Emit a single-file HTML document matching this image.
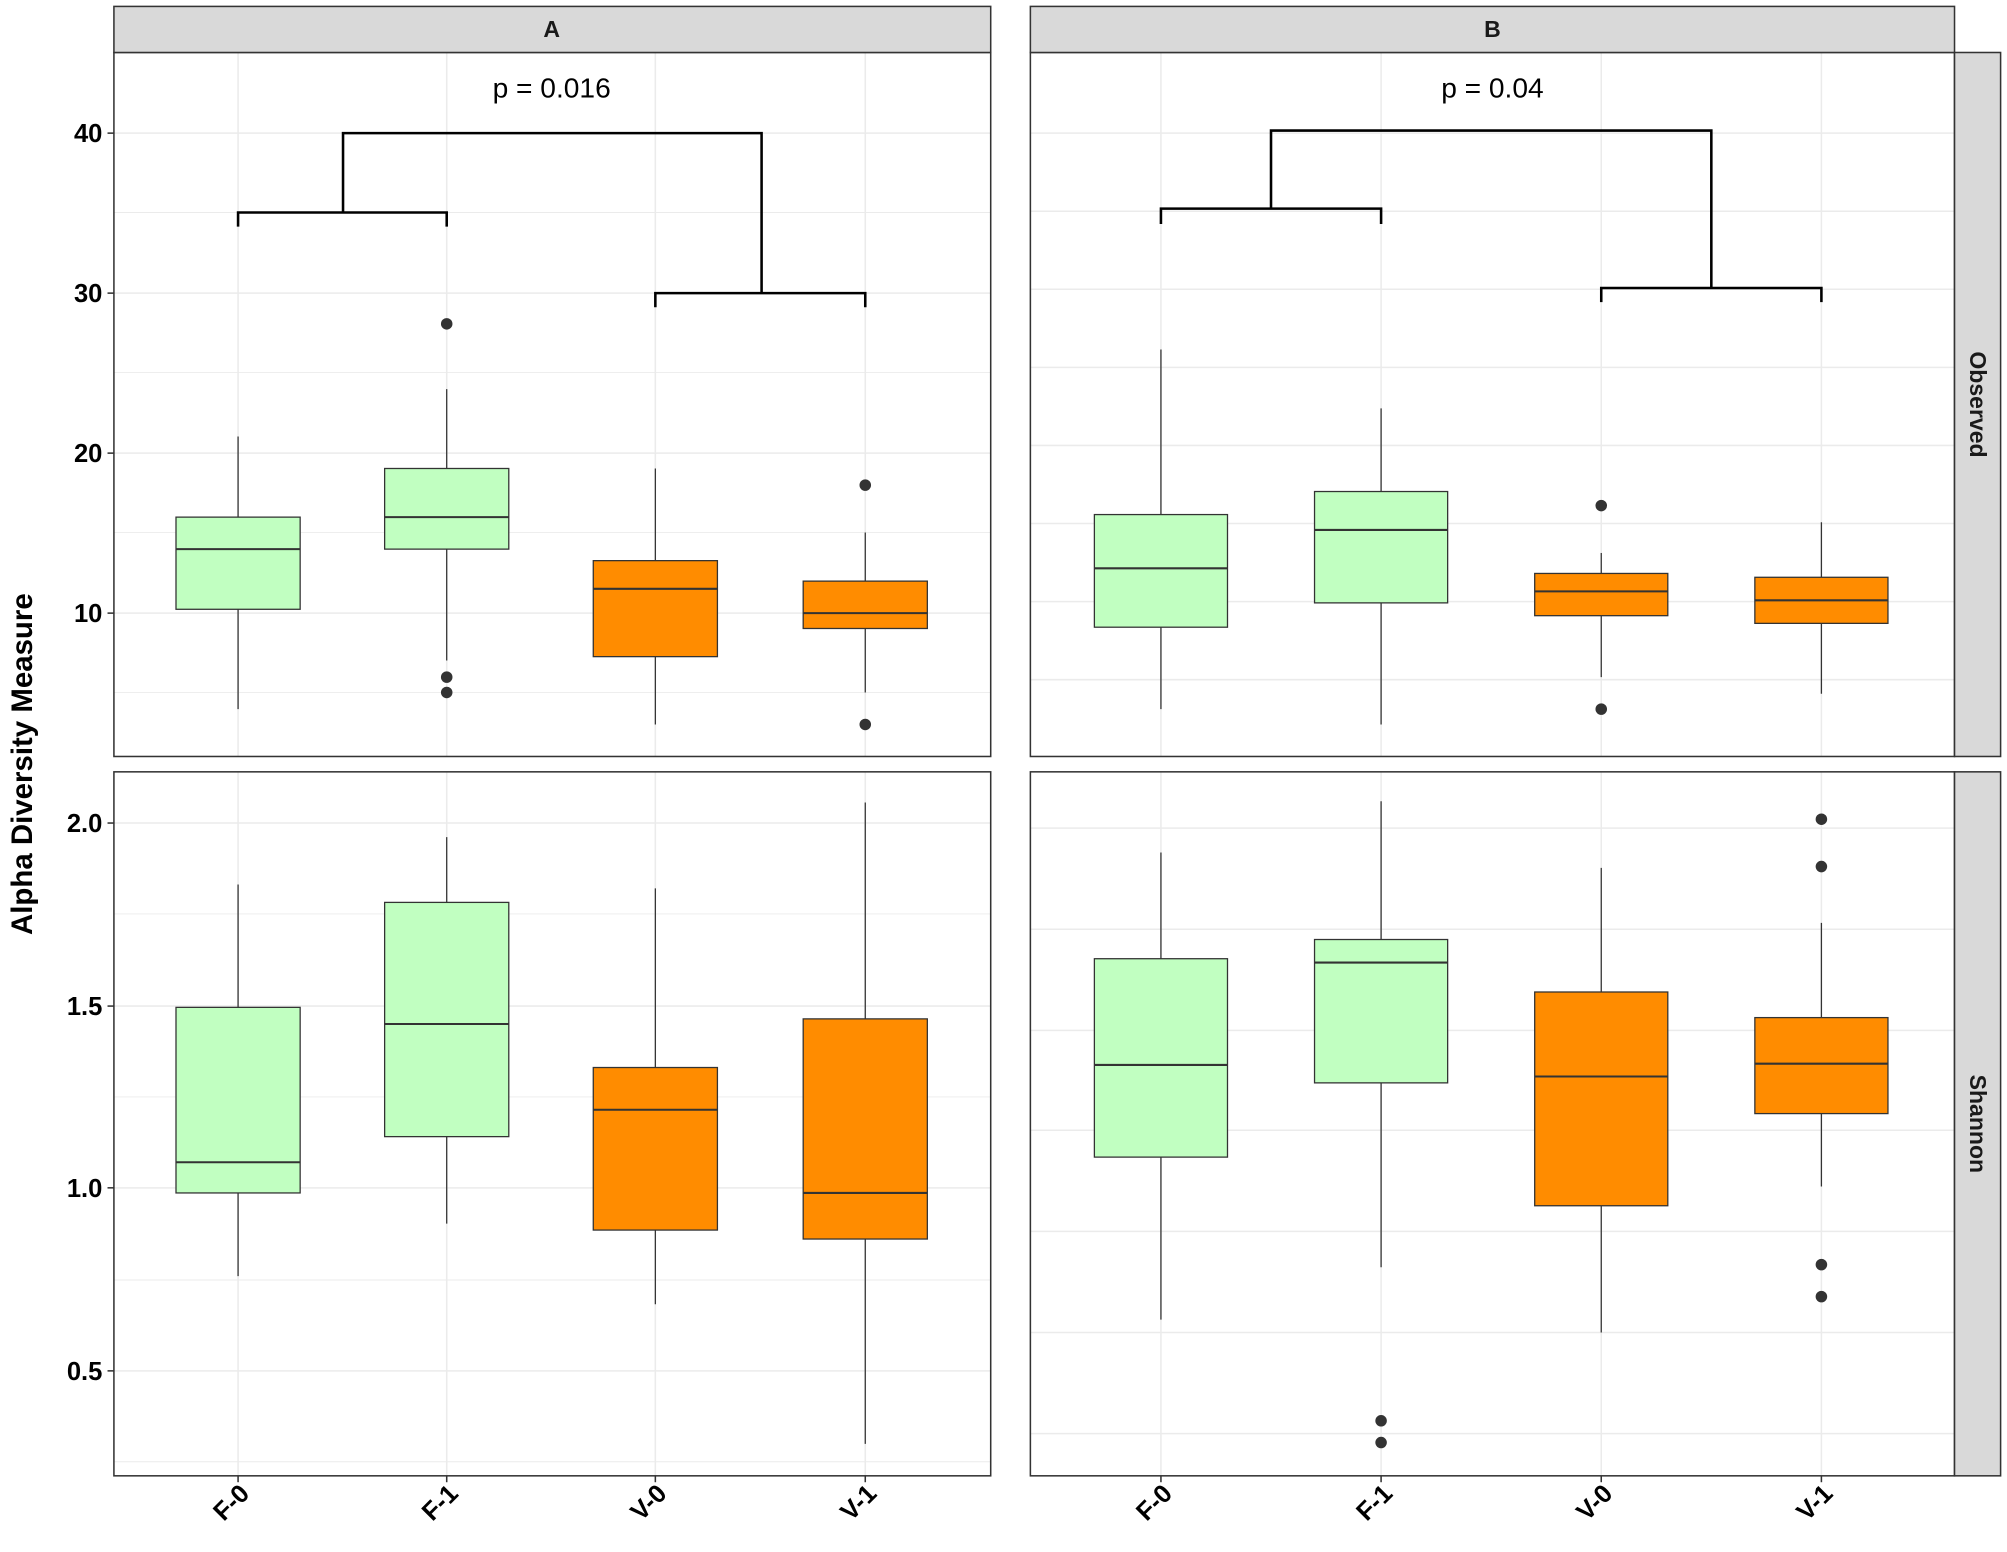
<!DOCTYPE html>
<html><head><meta charset="utf-8"><style>html,body{margin:0;padding:0;background:#fff}svg{display:block}</style></head><body>
<svg width="2007" height="1552" viewBox="0 0 1568 1212.5" xmlns="http://www.w3.org/2000/svg" font-family="Liberation Sans, Arial, sans-serif">
<rect width="1568" height="1212.5" fill="#fff"/>
<g stroke="#ebebeb" stroke-width="1.2">
<line x1="89" x2="774" y1="104" y2="104"/><line x1="89" x2="774" y1="229" y2="229"/><line x1="89" x2="774" y1="354" y2="354"/><line x1="89" x2="774" y1="479" y2="479"/>
<line x1="89" x2="774" y1="166" y2="166" stroke-width="0.7"/><line x1="89" x2="774" y1="291" y2="291" stroke-width="0.7"/><line x1="89" x2="774" y1="416" y2="416" stroke-width="0.7"/><line x1="89" x2="774" y1="541" y2="541" stroke-width="0.7"/>
<line x1="89" x2="774" y1="643" y2="643"/><line x1="89" x2="774" y1="786" y2="786"/><line x1="89" x2="774" y1="928" y2="928"/><line x1="89" x2="774" y1="1071" y2="1071"/>
<line x1="89" x2="774" y1="714" y2="714" stroke-width="0.7"/><line x1="89" x2="774" y1="857" y2="857" stroke-width="0.7"/><line x1="89" x2="774" y1="1000" y2="1000" stroke-width="0.7"/><line x1="89" x2="774" y1="1142" y2="1142" stroke-width="0.7"/>
<line x1="805" x2="1527" y1="104" y2="104"/><line x1="805" x2="1527" y1="165" y2="165"/><line x1="805" x2="1527" y1="226" y2="226"/><line x1="805" x2="1527" y1="287" y2="287"/><line x1="805" x2="1527" y1="348" y2="348"/><line x1="805" x2="1527" y1="409" y2="409"/><line x1="805" x2="1527" y1="470" y2="470"/><line x1="805" x2="1527" y1="531" y2="531"/>
<line x1="805" x2="1527" y1="647" y2="647"/><line x1="805" x2="1527" y1="726" y2="726"/><line x1="805" x2="1527" y1="805" y2="805"/><line x1="805" x2="1527" y1="883" y2="883"/><line x1="805" x2="1527" y1="962" y2="962"/><line x1="805" x2="1527" y1="1041" y2="1041"/><line x1="805" x2="1527" y1="1120" y2="1120"/>
<line x1="186" x2="186" y1="41" y2="591"/><line x1="349" x2="349" y1="41" y2="591"/><line x1="512" x2="512" y1="41" y2="591"/><line x1="676" x2="676" y1="41" y2="591"/>
<line x1="186" x2="186" y1="603" y2="1153"/><line x1="349" x2="349" y1="603" y2="1153"/><line x1="512" x2="512" y1="603" y2="1153"/><line x1="676" x2="676" y1="603" y2="1153"/>
<line x1="907" x2="907" y1="41" y2="591"/><line x1="1079" x2="1079" y1="41" y2="591"/><line x1="1251" x2="1251" y1="41" y2="591"/><line x1="1423" x2="1423" y1="41" y2="591"/>
<line x1="907" x2="907" y1="603" y2="1153"/><line x1="1079" x2="1079" y1="603" y2="1153"/><line x1="1251" x2="1251" y1="603" y2="1153"/><line x1="1423" x2="1423" y1="603" y2="1153"/>
</g>
<g stroke="#333" stroke-width="1">
<line x1="186" x2="186" y1="341" y2="554"/><rect x="137.5" y="404" width="97" height="72" fill="#C1FFC1"/><line x1="137.5" x2="234.5" y1="429" y2="429" stroke-width="1.6"/>
<line x1="349" x2="349" y1="304" y2="516"/><rect x="300.5" y="366" width="97" height="63" fill="#C1FFC1"/><line x1="300.5" x2="397.5" y1="404" y2="404" stroke-width="1.6"/>
<line x1="512" x2="512" y1="366" y2="566"/><rect x="463.5" y="438" width="97" height="75" fill="#FF8C00"/><line x1="463.5" x2="560.5" y1="460" y2="460" stroke-width="1.6"/>
<line x1="676" x2="676" y1="416" y2="541"/><rect x="627.5" y="454" width="97" height="37" fill="#FF8C00"/><line x1="627.5" x2="724.5" y1="479" y2="479" stroke-width="1.6"/>
<line x1="907" x2="907" y1="273" y2="554"/><rect x="855" y="402" width="104" height="88" fill="#C1FFC1"/><line x1="855" x2="959" y1="444" y2="444" stroke-width="1.6"/>
<line x1="1079" x2="1079" y1="319" y2="566"/><rect x="1027" y="384" width="104" height="87" fill="#C1FFC1"/><line x1="1027" x2="1131" y1="414" y2="414" stroke-width="1.6"/>
<line x1="1251" x2="1251" y1="432" y2="529"/><rect x="1199" y="448" width="104" height="33" fill="#FF8C00"/><line x1="1199" x2="1303" y1="462" y2="462" stroke-width="1.6"/>
<line x1="1423" x2="1423" y1="408" y2="542"/><rect x="1371" y="451" width="104" height="36" fill="#FF8C00"/><line x1="1371" x2="1475" y1="469" y2="469" stroke-width="1.6"/>
<line x1="186" x2="186" y1="691" y2="997"/><rect x="137.5" y="787" width="97" height="145" fill="#C1FFC1"/><line x1="137.5" x2="234.5" y1="908" y2="908" stroke-width="1.6"/>
<line x1="349" x2="349" y1="654" y2="956"/><rect x="300.5" y="705" width="97" height="183" fill="#C1FFC1"/><line x1="300.5" x2="397.5" y1="800" y2="800" stroke-width="1.6"/>
<line x1="512" x2="512" y1="694" y2="1019"/><rect x="463.5" y="834" width="97" height="127" fill="#FF8C00"/><line x1="463.5" x2="560.5" y1="867" y2="867" stroke-width="1.6"/>
<line x1="676" x2="676" y1="627" y2="1128"/><rect x="627.5" y="796" width="97" height="172" fill="#FF8C00"/><line x1="627.5" x2="724.5" y1="932" y2="932" stroke-width="1.6"/>
<line x1="907" x2="907" y1="666" y2="1031"/><rect x="855" y="749" width="104" height="155" fill="#C1FFC1"/><line x1="855" x2="959" y1="832" y2="832" stroke-width="1.6"/>
<line x1="1079" x2="1079" y1="626" y2="990"/><rect x="1027" y="734" width="104" height="112" fill="#C1FFC1"/><line x1="1027" x2="1131" y1="752" y2="752" stroke-width="1.6"/>
<line x1="1251" x2="1251" y1="678" y2="1041"/><rect x="1199" y="775" width="104" height="167" fill="#FF8C00"/><line x1="1199" x2="1303" y1="841" y2="841" stroke-width="1.6"/>
<line x1="1423" x2="1423" y1="721" y2="927"/><rect x="1371" y="795" width="104" height="75" fill="#FF8C00"/><line x1="1371" x2="1475" y1="831" y2="831" stroke-width="1.6"/>
</g>
<g fill="#333">
<circle cx="349" cy="253" r="4.5"/><circle cx="349" cy="529" r="4.5"/><circle cx="349" cy="541" r="4.5"/>
<circle cx="676" cy="379" r="4.5"/><circle cx="676" cy="566" r="4.5"/>
<circle cx="1251" cy="395" r="4.5"/><circle cx="1251" cy="554" r="4.5"/>
<circle cx="1079" cy="1110" r="4.5"/><circle cx="1079" cy="1127" r="4.5"/>
<circle cx="1423" cy="640" r="4.5"/><circle cx="1423" cy="677" r="4.5"/><circle cx="1423" cy="988" r="4.5"/><circle cx="1423" cy="1013" r="4.5"/>
</g>
<g stroke="#000" stroke-width="2" fill="none">
<polyline points="186,177 186,166 349,166 349,177"/><polyline points="512,240 512,229 676,229 676,240"/><polyline points="268,166 268,104 595,104 595,229"/>
<polyline points="907,175 907,163 1079,163 1079,175"/><polyline points="1251,236 1251,225 1423,225 1423,236"/><polyline points="993,163 993,102 1337,102 1337,225"/>
</g>
<text x="431" y="76" font-size="22" text-anchor="middle">p = 0.016</text>
<text x="1166" y="76" font-size="22" text-anchor="middle">p = 0.04</text>
<g fill="none" stroke="#333" stroke-width="1.2">
<rect x="89" y="41" width="685" height="550"/><rect x="805" y="41" width="722" height="550"/>
<rect x="89" y="603" width="685" height="550"/><rect x="805" y="603" width="722" height="550"/>
</g>
<g fill="#d9d9d9" stroke="#333" stroke-width="1.2">
<rect x="89" y="5" width="685" height="36"/><rect x="805" y="5" width="722" height="36"/>
<rect x="1527" y="41" width="36" height="550"/><rect x="1527" y="603" width="36" height="550"/>
</g>
<g font-size="18" font-weight="bold" fill="#1a1a1a" text-anchor="middle">
<text x="431" y="29">A</text><text x="1166" y="29">B</text>
<text transform="translate(1539,316) rotate(90)">Observed</text>
<text transform="translate(1539,878) rotate(90)">Shannon</text>
</g>
<g stroke="#333" stroke-width="1.2">
<line x1="84" x2="89" y1="104" y2="104"/><line x1="84" x2="89" y1="229" y2="229"/><line x1="84" x2="89" y1="354" y2="354"/><line x1="84" x2="89" y1="479" y2="479"/>
<line x1="84" x2="89" y1="643" y2="643"/><line x1="84" x2="89" y1="786" y2="786"/><line x1="84" x2="89" y1="928" y2="928"/><line x1="84" x2="89" y1="1071" y2="1071"/>
<line x1="186" x2="186" y1="1153" y2="1158"/><line x1="349" x2="349" y1="1153" y2="1158"/><line x1="512" x2="512" y1="1153" y2="1158"/><line x1="676" x2="676" y1="1153" y2="1158"/>
<line x1="907" x2="907" y1="1153" y2="1158"/><line x1="1079" x2="1079" y1="1153" y2="1158"/><line x1="1251" x2="1251" y1="1153" y2="1158"/><line x1="1423" x2="1423" y1="1153" y2="1158"/>
</g>
<g font-size="20" font-weight="bold" fill="#000" text-anchor="end">
<text x="80" y="111">40</text><text x="80" y="236">30</text><text x="80" y="361">20</text><text x="80" y="486">10</text>
<text x="80" y="650">2.0</text><text x="80" y="793">1.5</text><text x="80" y="935">1.0</text><text x="80" y="1078">0.5</text>
</g>
<g font-size="20" font-weight="bold" fill="#000" text-anchor="end">
<text transform="translate(196,1168) rotate(-45)">F-0</text>
<text transform="translate(359,1168) rotate(-45)">F-1</text>
<text transform="translate(522,1168) rotate(-45)">V-0</text>
<text transform="translate(686,1168) rotate(-45)">V-1</text>
<text transform="translate(917,1168) rotate(-45)">F-0</text>
<text transform="translate(1089,1168) rotate(-45)">F-1</text>
<text transform="translate(1261,1168) rotate(-45)">V-0</text>
<text transform="translate(1433,1168) rotate(-45)">V-1</text>
</g>
<text transform="translate(25,597) rotate(-90)" font-size="23" font-weight="bold" text-anchor="middle">Alpha Diversity Measure</text>
</svg>
</body></html>
